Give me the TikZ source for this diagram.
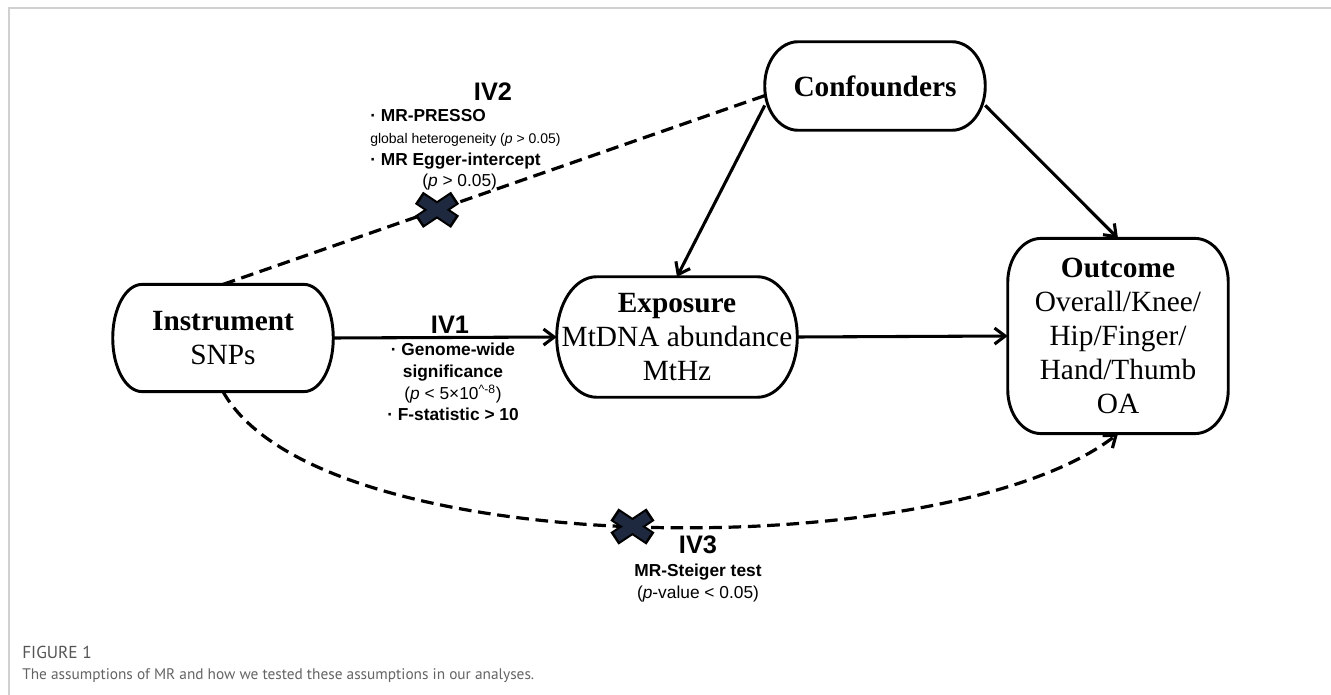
\documentclass[tikz,border=0pt]{standalone}
\usepackage{fontspec}
\setmainfont{Liberation Serif}
\setsansfont{Liberation Sans}
\newfontfamily\capfont{PT Sans}
\usetikzlibrary{
  arrows.meta,
  calc,
  positioning,
}
\tikzstyle{box} = [
  align=center,
  font=\fontsize{22}{25.5}\selectfont,
]
\tikzstyle{arrow} = [
  -{Straight Barb[length=8pt,width=12pt]},
  line width=2.3pt,
]
\tikzstyle{dashline} = [line width=2.4pt, dash pattern=on 9.5pt off 5pt]
\tikzstyle{dasharrow} = [arrow, line width=2.4pt, dash pattern=on 9.5pt off 5pt]
\tikzstyle{ivlabel} = [font=\sffamily\bfseries\fontsize{19}{22}\selectfont, inner sep=0pt]
\tikzstyle{note} = [font=\sffamily\fontsize{13}{16.3}\selectfont, inner sep=0pt]
\tikzstyle{caption} = [anchor=west, inner sep=0pt, font=\capfont\fontsize{11.5}{14}\selectfont]
\definecolor{crossblue}{RGB}{30, 40, 62}
\definecolor{framegray}{RGB}{208, 208, 208}
\definecolor{capgray}{RGB}{100, 100, 100}

% border with elliptic corners: node, x radius, y radius (pt)
\newcommand{\ovalborder}[3]{
  \draw[line width=2.2pt] ($(#1.north west)+(#2pt,0pt)$) -- ($(#1.north east)+(-#2pt,0pt)$)
    arc[start angle=90,end angle=0,x radius=#2pt,y radius=#3pt]
    -- ($(#1.south east)+(0pt,#3pt)$)
    arc[start angle=0,end angle=-90,x radius=#2pt,y radius=#3pt]
    -- ($(#1.south west)+(#2pt,0pt)$)
    arc[start angle=-90,end angle=-180,x radius=#2pt,y radius=#3pt]
    -- ($(#1.north west)+(0pt,-#3pt)$)
    arc[start angle=180,end angle=90,x radius=#2pt,y radius=#3pt] -- cycle;
}

\begin{document}
\begin{tikzpicture}[x=0.75pt,y=-0.75pt]
			\useasboundingbox (0,0) rectangle (1331,695);
			\draw[framegray,line width=1.2pt] (1331,8) -- (9,8) -- (9,695);

			\node[box,minimum width=165pt,minimum height=66pt] (conf) at (875,86) {\textbf{Confounders}};
			\node[box,minimum width=165pt,minimum height=80pt] (instr) at (223,338) {\textbf{Instrument}\\SNPs};
			\node[box,minimum width=180pt,minimum height=90pt] (expo) at (677,337) {\textbf{Exposure}\\MtDNA abundance\\MtHz};
			\node[box,minimum width=165pt,minimum height=146pt] (outc) at (1118,336) {\textbf{Outcome}\\Overall/Knee/\\Hip/Finger/\\Hand/Thumb\\OA};
			\ovalborder{conf}{25}{33}
			\ovalborder{instr}{22}{40}
			\ovalborder{expo}{30}{45}
			\ovalborder{outc}{25}{33}

			\draw[arrow] (instr.east) -- (expo.west);
			\draw[arrow] (expo.east) -- (outc.west);
			\draw[arrow] (conf.190) -- (expo.north);
			\draw[arrow] (conf.-10) -- (outc.north);
			\draw[dashline] (instr.north) -- coordinate[pos=0.395] (x1) (conf.185);
			\draw[dasharrow] (instr.south) .. controls (320,565) and (950,565) .. coordinate[pos=0.49] (x2) (outc.south);

			% crosses on the violated paths
			\foreach \c in {x1,x2} {
				\draw[line width=11pt] ($(\c)+(-18,-12)$) -- ($(\c)+(18,12)$);
				\draw[line width=11pt] ($(\c)+(-18,12)$) -- ($(\c)+(18,-12)$);
				\draw[crossblue,line width=7.8pt] ($(\c)+(-15.8,-10.5)$) -- ($(\c)+(15.8,10.5)$);
				\draw[crossblue,line width=7.8pt] ($(\c)+(-15.8,10.5)$) -- ($(\c)+(15.8,-10.5)$);
			}

			\node[ivlabel] (iv2) at (493,92) {IV2};
			\node[note,anchor=west,align=left] (iv2txt) at (370,150) {\textbf{· MR-PRESSO}\\{\fontsize{10.5}{16.3}\selectfont global heterogeneity (\textit{p} > 0.05)}\\\textbf{· MR Egger-intercept}\\\hspace{39pt}(\textit{p} > 0.05)};

			\node[ivlabel] (iv1) at (450,325) {IV1};
			\node[note,align=center] (iv1txt) at (453,382) {\textbf{· Genome-wide}\\\textbf{significance}\\(\textit{p} < 5×10\textsuperscript{\textasciicircum-8})\\\textbf{· F-statistic > 10}};

			\node[ivlabel] (iv3) at (698,545) {IV3};
			\node[note,align=center] (iv3txt) at (698,583) {\textbf{MR-Steiger test}\\(\textit{p}-value < 0.05)};

			\node[caption,text=capgray!85!black,font=\capfont\fontsize{13}{15}\selectfont] (fig) at (22,652) {FIGURE 1};
			\node[caption,text=capgray] (cap) at (22,676) {The assumptions of MR and how we tested these assumptions in our analyses.};
		\end{tikzpicture}
\end{document}
